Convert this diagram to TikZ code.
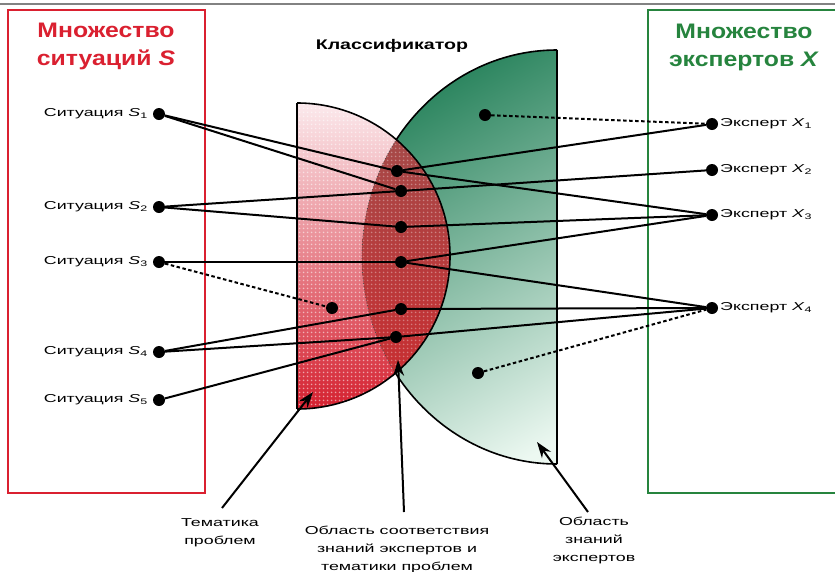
\documentclass[tikz,border=0pt]{standalone}
\usepackage{fontspec}
\setmainfont{Liberation Sans}[FakeStretch=1.18]
\newfontfamily\widefont{Liberation Sans}[FakeStretch=1.55]
\newfontfamily\clsfont{Liberation Sans}[FakeStretch=1.4]
\usetikzlibrary{arrows.meta,patterns.meta}

\definecolor{setred}{RGB}{218,32,48}
\definecolor{setgreen}{RGB}{38,132,62}
\definecolor{rulegray}{RGB}{130,130,130}
\definecolor{gdark}{RGB}{32,126,86}
\definecolor{gmid}{RGB}{52,146,106}
\definecolor{glight}{RGB}{236,248,241}
\definecolor{pinktop}{RGB}{252,236,239}
\definecolor{pinkbot}{RGB}{212,30,45}
\definecolor{bothtop}{RGB}{160,78,76}
\definecolor{bothbot}{RGB}{205,42,46}

\begin{document}
\begin{tikzpicture}[x=1pt,y=-1pt,
  setbox/.style={line width=2pt},
  title/.style={font=\fontsize{21}{28}\selectfont\bfseries, align=center, inner sep=0pt},
  lbl/.style={font=\widefont\fontsize{11.5}{18}\selectfont, inner sep=1pt},
  caption/.style={font=\widefont\fontsize{11.5}{18}\selectfont, align=center, inner sep=0pt},
  dotnode/.style={circle, fill=black, inner sep=0pt, minimum size=12pt},
  outline/.style={line width=1.6pt, black},
  link/.style={line width=2pt, black},
  weaklink/.style={line width=2pt, black, dash pattern=on 3.5pt off 2.5pt},
  pointer/.style={line width=2pt, black, -{Stealth[length=16pt,width=11pt]}},
  halftone/.style={pattern={Dots[radius=1.1pt, distance=4pt]}, pattern color=white},
  expertarea/.style={x radius=195pt, y radius=207pt}
]
\useasboundingbox (0,0) rectangle (835,571);

% top rule
\draw[rulegray, line width=2.5pt] (-5,4) -- (845,4);

% the two sets
\draw[setbox, setred] (8,10) rectangle (205,493);
\draw[setbox, setgreen] (648,10) rectangle (850,493);
\node[title, text=setred] (titleS) at (106,46) {Множество\\ситуаций \textit{S}};
\node[title, text=setgreen] (titleX) at (744,47) {Множество\\экспертов \textit{X}};
\node[font=\clsfont\fontsize{14}{16}\selectfont\bfseries, inner sep=0pt] (cls) at (392,46) {Классификатор};

% knowledge area of the experts (half ellipse)
\begin{scope}
  \clip (300,0) rectangle (557,571);
  \clip (557,257) ellipse [expertarea];
  \shade[top color=gdark, middle color=gmid, bottom color=glight, shading angle=30]
    (362,20) rectangle (600,500);
\end{scope}

% problem topics (half disc)
\begin{scope}
  \clip (297,0) rectangle (460,571);
  \clip (297,256) circle [radius=153pt];
  \shade[top color=pinktop, bottom color=pinkbot] (297,100) rectangle (452,412);
  \fill[halftone, opacity=0.55] (297,100) rectangle (452,412);
  % overlap of both areas
  \begin{scope}
    \clip (557,257) ellipse [expertarea];
    \shade[top color=bothtop, bottom color=bothbot] (297,100) rectangle (452,412);
    \fill[halftone, opacity=0.35] (297,100) rectangle (452,412);
  \end{scope}
  \draw[black!70, line width=0.8pt, dotted] (557,257) ellipse [expertarea];
\end{scope}

% outlines
\begin{scope}
  \clip (300,0) rectangle (557,571);
  % green arc only outside the half disc
  \begin{scope}[even odd rule]
    \clip (0,0) rectangle (835,571) (297,256) circle [radius=153pt];
    \draw[outline] (557,257) ellipse [expertarea];
  \end{scope}
\end{scope}
\begin{scope}
  \clip (297,0) rectangle (460,571);
  \draw[outline] (297,256) circle [radius=153pt];
\end{scope}
\draw[outline] (297,103) -- (297,409);
\draw[outline] (557,50) -- (557,464);

% situations
\node[dotnode] (s1) at (159,114) {};
\node[dotnode] (s2) at (159,207) {};
\node[dotnode] (s3) at (159,262) {};
\node[dotnode] (s4) at (159,352) {};
\node[dotnode] (s5) at (159,400) {};
\node[lbl, anchor=east] (ls1) at (149,114) {Ситуация \textit{S}\textsubscript{1}};
\node[lbl, anchor=east] (ls2) at (149,207) {Ситуация \textit{S}\textsubscript{2}};
\node[lbl, anchor=east] (ls3) at (149,262) {Ситуация \textit{S}\textsubscript{3}};
\node[lbl, anchor=east] (ls4) at (149,352) {Ситуация \textit{S}\textsubscript{4}};
\node[lbl, anchor=east] (ls5) at (149,400) {Ситуация \textit{S}\textsubscript{5}};

% experts
\node[dotnode] (x1) at (712,124) {};
\node[dotnode] (x2) at (712,170) {};
\node[dotnode] (x3) at (712,215) {};
\node[dotnode] (x4) at (712,308) {};
\node[lbl, anchor=west] (lx1) at (719,124) {Эксперт \textit{X}\textsubscript{1}};
\node[lbl, anchor=west] (lx2) at (719,170) {Эксперт \textit{X}\textsubscript{2}};
\node[lbl, anchor=west] (lx3) at (719,215) {Эксперт \textit{X}\textsubscript{3}};
\node[lbl, anchor=west] (lx4) at (719,308) {Эксперт \textit{X}\textsubscript{4}};

% classifier points
\node[dotnode] (c1) at (397,171) {};
\node[dotnode] (c2) at (401,191) {};
\node[dotnode] (c3) at (401,227) {};
\node[dotnode] (c4) at (401,262) {};
\node[dotnode] (c5) at (401,309) {};
\node[dotnode] (c6) at (396,337) {};
\node[dotnode] (p1) at (332,308) {};
\node[dotnode] (g1) at (485,115) {};
\node[dotnode] (g2) at (478,373) {};

% links situation -> classifier
\draw[link] (s1) -- (c1);
\draw[link] (s1) -- (c2);
\draw[link] (s2) -- (c2);
\draw[link] (s2) -- (c3);
\draw[link] (s3) -- (c4);
\draw[link] (s4) -- (c5);
\draw[link] (s4) -- (c6);
\draw[link] (s5) -- (c6);
% links classifier -> expert
\draw[link] (c1) -- (x1);
\draw[link] (c1) -- (x3);
\draw[link] (c2) -- (x2);
\draw[link] (c3) -- (x3);
\draw[link] (c4) -- (x3);
\draw[link] (c4) -- (x4);
\draw[link] (c5) -- (x4);
\draw[link] (c6) -- (x4);
% unmatched links
\draw[weaklink] (s3) -- (p1);
\draw[weaklink] (g1) -- (x1);
\draw[weaklink] (g2) -- (x4);

% captions with pointers
\coordinate (t1) at (313,392);
\coordinate (t2) at (398,360);
\coordinate (t3) at (537,442);
\coordinate (a1) at (222,508);
\coordinate (a2) at (404,512);
\coordinate (a3) at (588,512);
\draw[pointer] (a1) -- (t1);
\draw[pointer] (a2) -- (t2);
\draw[pointer] (a3) -- (t3);
\node[caption] (cap1) at (220,533) {Тематика\\проблем};
\node[caption] (cap2) at (397,549) {Область соответствия\\знаний экспертов и\\тематики проблем};
\node[caption] (cap3) at (594,540) {Область\\знаний\\экспертов};
\end{tikzpicture}
\end{document}
